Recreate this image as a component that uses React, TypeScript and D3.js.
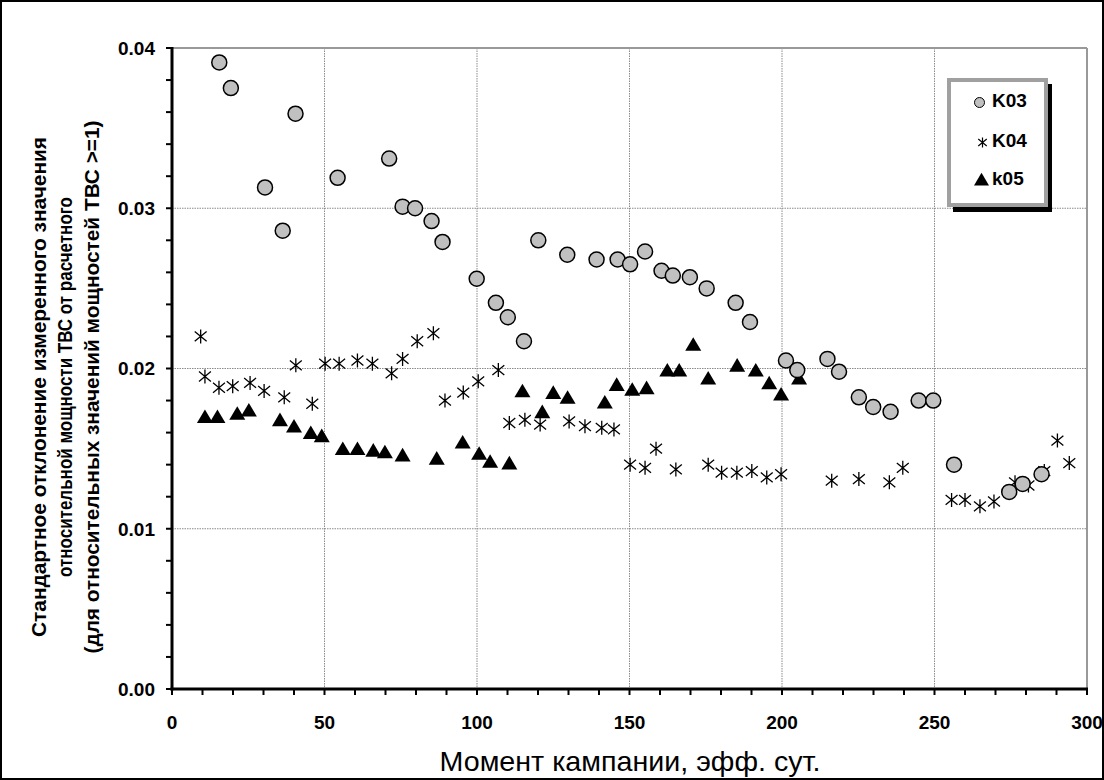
import React from "react";
import * as d3 from "d3";

const W = 1104;
const H = 780;

// K03 series
const k03X = [15.5, 19.3, 30.5, 36.3, 40.5, 54.3, 71.2, 75.6, 79.7, 85.1, 88.7, 99.9, 106.2, 110.1, 115.4, 120.1, 129.6, 139.2, 146.1, 150.2, 155.1, 160.5, 164.2, 169.8, 175.3, 184.8, 189.5, 201.3, 205.0, 214.9, 218.7, 225.2, 229.9, 235.6, 244.8, 249.6, 256.4, 274.5, 278.9, 285.1];
const k03Y = [0.0391, 0.0375, 0.0313, 0.0286, 0.0359, 0.0319, 0.0331, 0.0301, 0.0300, 0.0292, 0.0279, 0.0256, 0.0241, 0.0232, 0.0217, 0.0280, 0.0271, 0.0268, 0.0268, 0.0265, 0.0273, 0.0261, 0.0258, 0.0257, 0.0250, 0.0241, 0.0229, 0.0205, 0.0199, 0.0206, 0.0198, 0.0182, 0.0176, 0.0173, 0.0180, 0.0180, 0.0140, 0.0123, 0.0128, 0.0134];

// K04 series
const k04X = [9.4, 10.8, 15.4, 19.9, 25.6, 30.2, 36.8, 40.6, 46.0, 50.2, 54.8, 60.8, 65.7, 72.0, 75.6, 80.4, 85.7, 89.5, 95.5, 100.4, 107.0, 110.6, 115.7, 120.7, 130.2, 135.4, 140.9, 144.9, 150.2, 155.1, 158.7, 165.2, 175.8, 180.2, 185.2, 190.1, 195.0, 199.7, 216.3, 225.2, 235.2, 239.6, 255.6, 260.0, 264.9, 269.5, 276.4, 280.8, 286.0, 290.3, 294.2];
const k04Y = [0.0220, 0.0195, 0.0188, 0.0189, 0.0191, 0.0186, 0.0182, 0.0202, 0.0178, 0.0203, 0.0203, 0.0205, 0.0203, 0.0197, 0.0206, 0.0217, 0.0222, 0.0180, 0.0185, 0.0192, 0.0199, 0.0166, 0.0168, 0.0165, 0.0167, 0.0164, 0.0163, 0.0162, 0.0140, 0.0138, 0.0150, 0.0137, 0.0140, 0.0135, 0.0135, 0.0136, 0.0132, 0.0134, 0.0130, 0.0131, 0.0129, 0.0138, 0.0118, 0.0118, 0.0114, 0.0117, 0.0129, 0.0127, 0.0136, 0.0155, 0.0141];

// k05 series
const k05X = [10.8, 14.9, 21.4, 25.2, 35.4, 40.0, 45.5, 49.1, 56.0, 60.8, 66.0, 69.8, 75.6, 86.8, 95.3, 100.7, 104.3, 110.6, 114.9, 121.4, 125.0, 129.7, 141.9, 145.8, 150.9, 155.6, 162.4, 166.3, 170.9, 175.8, 185.3, 191.4, 195.8, 199.7, 205.6];
const k05Y = [0.0169, 0.0169, 0.0171, 0.0173, 0.0167, 0.0163, 0.0159, 0.0157, 0.0149, 0.0149, 0.0148, 0.0147, 0.0145, 0.0143, 0.0153, 0.0146, 0.0141, 0.0140, 0.0185, 0.0172, 0.0184, 0.0181, 0.0178, 0.0189, 0.0186, 0.0187, 0.0198, 0.0198, 0.0214, 0.0193, 0.0201, 0.0198, 0.0190, 0.0183, 0.0193];

const xTicks = [0, 50, 100, 150, 200, 250, 300];
const yTicks = [0, 0.01, 0.02, 0.03, 0.04];
const legendNames = ["K03", "K04", "k05"];
const xTitle = "Момент кампании, эфф. сут.";
const yTitleLines = [
  "Стандартное  отклонение измеренного значения",
  "относительной мощности ТВС от расчетного",
  "(для относительных значений мощностей ТВС >=1)",
];

const FONT = "Arial, 'Liberation Sans', sans-serif";

const asteriskPath = (s: number) =>
  `M0,${-s} L0,${s} M${-s * 0.85},${-s * 0.7} L${s * 0.85},${s * 0.7} M${-s * 0.85},${s * 0.7} L${s * 0.85},${-s * 0.7}`;
const trianglePath = (w: number) => `M0,${-w * 1.1} L${w},${w * 0.6} L${-w},${w * 0.6} Z`;

export default function App() {
  const x = d3.scaleLinear().domain([0, 300]).range([172, 1087]);
  const y = d3.scaleLinear().domain([0, 0.04]).range([689, 48]);

  const xMinor = d3.range(0, 301, 10);
  const yMinor = d3.range(0, 0.0401, 0.002);

  const k03 = k03X.map((v, i) => [v, k03Y[i]]);
  const k04 = k04X.map((v, i) => [v, k04Y[i]]);
  const k05 = k05X.map((v, i) => [v, k05Y[i]]);

  const yTitleX = [46, 72, 99];
  const yTitleLen = [500, 380, 533];
  const yTitleCenter = 387;

  return (
    <svg
      width={W}
      height={H}
      style={{ position: "absolute", left: 0, top: 0, display: "block", background: "#fff" }}
      fontFamily={FONT}
    >
      <rect x={0} y={0} width={W} height={H} fill="#fff" />
      <rect x={1} y={1} width={W - 2} height={H - 2} fill="none" stroke="#000" strokeWidth={2} />

      {/* grid */}
      {xTicks.slice(1, -1).map((t) => (
        <line key={"gx" + t} x1={x(t)} x2={x(t)} y1={y(0.04)} y2={y(0)} stroke="#8a8a8a" strokeWidth={1} strokeDasharray="1.5,1" />
      ))}
      {yTicks.slice(1, -1).map((t) => (
        <line key={"gy" + t} x1={x(0)} x2={x(300)} y1={y(t)} y2={y(t)} stroke="#8a8a8a" strokeWidth={1} strokeDasharray="1.5,1" />
      ))}
      {/* plot border top/right */}
      <line x1={x(0)} x2={x(300)} y1={y(0.04)} y2={y(0.04)} stroke="#999" strokeWidth={2} />
      <line x1={x(300)} x2={x(300)} y1={y(0.04)} y2={y(0)} stroke="#999" strokeWidth={2} />

      {/* axes */}
      <line x1={x(0)} x2={x(0)} y1={y(0.04) - 1} y2={y(0) + 1.5} stroke="#000" strokeWidth={3} />
      <line x1={x(0) - 1.5} x2={x(300) + 1} y1={y(0)} y2={y(0)} stroke="#000" strokeWidth={3} />
      {yMinor.map((t, i) => (
        <line key={"ty" + i} x1={x(0) - 6} x2={x(0)} y1={y(t)} y2={y(t)} stroke="#000" strokeWidth={2} />
      ))}
      {xMinor.map((t) => (
        <line key={"tx" + t} x1={x(t)} x2={x(t)} y1={y(0)} y2={y(0) + 6} stroke="#000" strokeWidth={2} />
      ))}

      {/* tick labels */}
      {yTicks.map((t) => (
        <text
          key={"ly" + t}
          x={x(0) - 17}
          y={y(t)}
          textAnchor="end"
          dy="0.36em"
          fontSize={19}
          fontWeight="bold"
        >
          {t.toFixed(2)}
        </text>
      ))}
      {xTicks.map((t) => (
        <text key={"lx" + t} x={x(t)} y={729} textAnchor="middle" fontSize={19} fontWeight="bold">
          {t}
        </text>
      ))}

      {/* axis titles */}
      <text x={630} y={771} textAnchor="middle" fontSize={28} textLength={381} lengthAdjust="spacingAndGlyphs">
        {xTitle}
      </text>
      {yTitleLines.map((s, i) => (
        <text
          key={"yt" + i}
          transform={`translate(${yTitleX[i]},${yTitleCenter}) rotate(-90)`}
          textAnchor="middle"
          fontSize={20}
          fontWeight="bold"
          textLength={yTitleLen[i]}
          lengthAdjust="spacingAndGlyphs"
        >
          {s}
        </text>
      ))}

      {/* data */}
      <g>
        {k04.map(([a, b], i) => (
          <path key={"k04" + i} d={asteriskPath(7)} transform={`translate(${x(a)},${y(b)})`} stroke="#000" strokeWidth={1.3} fill="none" />
        ))}
        {k05.map(([a, b], i) => (
          <path key={"k05" + i} d={trianglePath(8)} transform={`translate(${x(a)},${y(b)})`} fill="#000" />
        ))}
        {k03.map(([a, b], i) => (
          <circle key={"k03" + i} cx={x(a)} cy={y(b)} r={7.5} fill="#c0c0c0" stroke="#000" strokeWidth={1.5} />
        ))}
      </g>

      {/* legend */}
      <rect x={953} y={84} width={99} height={128} fill="#000" />
      <rect x={949} y={80} width={97} height={125} fill="#fff" stroke="#a0a0a0" strokeWidth={4} />
      <circle cx={979.5} cy={102.5} r={5} fill="#c0c0c0" stroke="#000" strokeWidth={1} />
      <path d={asteriskPath(5)} transform="translate(982.5,142.5)" stroke="#000" strokeWidth={1.2} fill="none" />
      <path d={trianglePath(7.5)} transform="translate(981.5,181)" fill="#000" />
      {legendNames.map((n, i) => (
        <text key={"lg" + n} x={992} y={[107, 147, 185][i]} fontSize={19} fontWeight="bold">
          {n}
        </text>
      ))}
    </svg>
  );
}
